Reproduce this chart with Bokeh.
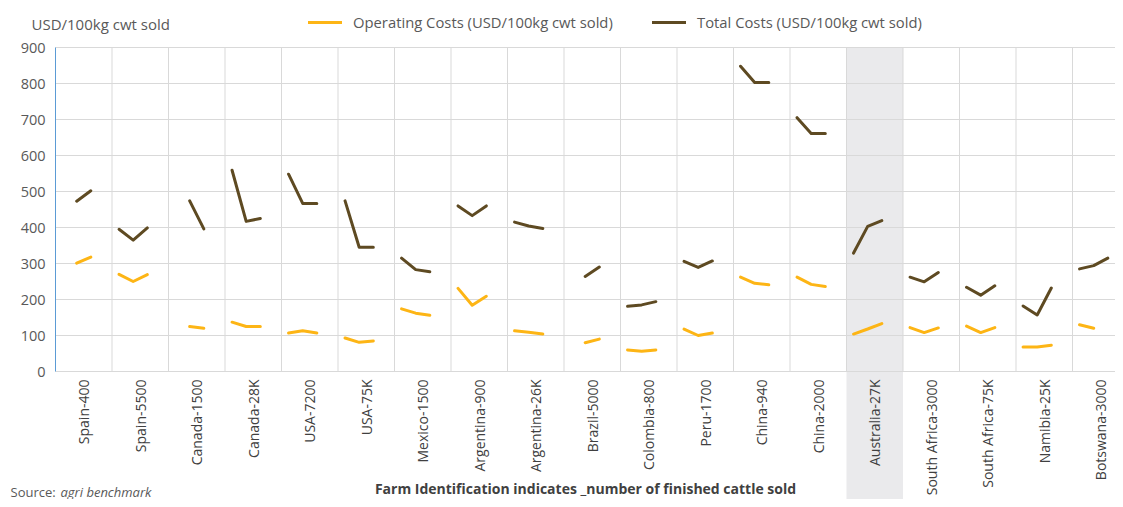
import math
from bokeh.plotting import figure
from bokeh.models import Range1d, Label, Legend, LegendItem, BoxAnnotation, ColumnDataSource
from bokeh.core.properties import value
from bokeh.embed import file_html
from bokeh.resources import INLINE

# ---------------- data ----------------
categories = ["Spain-400", "Spain-5500", "Canada-1500", "Canada-28K", "USA-7200",
              "USA-75K", "Mexico-1500", "Argentina-900", "Argentina-26K",
              "Brazil-5000", "Colombia-800", "Peru-1700", "China-940", "China-2000",
              "Australia-27K", "South Africa-3000", "South Africa-75K",
              "Namibia-25K", "Botswana-3000"]

operating = [
    [None, 301, 318],
    [270, 250, 269],
    [None, 125, 120],
    [137, 125, 125],
    [107, 113, 107],
    [93, 81, 85],
    [174, 162, 156],
    [231, 184, 209],
    [113, 109, 104],
    [None, 80, 90],
    [60, 56, 60],
    [118, 100, 107],
    [262, 245, 241],
    [262, 242, 236],
    [104, 118, 133],
    [122, 108, 121],
    [126, 108, 122],
    [68, 68, 73],
    [130, 120, None],
]

total = [
    [None, 473, 502],
    [395, 365, 399],
    [None, 474, 396],
    [559, 417, 425],
    [548, 467, 467],
    [474, 345, 345],
    [315, 283, 277],
    [460, 433, 460],
    [415, 404, 397],
    [None, 264, 290],
    [181, 185, 194],
    [306, 289, 307],
    [848, 803, 803],
    [705, 661, 661],
    [329, 403, 419],
    [262, 249, 275],
    [234, 212, 238],
    [182, 157, 232],
    [285, 294, 315],
]

y_ticks = [0, 100, 200, 300, 400, 500, 600, 700, 800, 900]
highlight = "Australia-27K"
series_names = ["Operating Costs (USD/100kg cwt sold)", "Total Costs (USD/100kg cwt sold)"]
y_title = "USD/100kg cwt sold"
x_note = "Farm Identification indicates _number of finished cattle sold"
source_lead = "Source:"
source_name = "agri benchmark"

# ---------------- styles / layout ----------------
ORANGE = "#FDB515"
DARK = "#5E4A22"
GRID = "#D9D9D9"
TXT = "#595959"
LAB = "#404040"
FONT = "Open Sans"

W, H = 1115, 499
PLOT_LEFT_PX = 55          # pixel of first category boundary
CAT_PX = 56.5              # pixels per category
ZERO_PX = 371              # pixel row of value 0
PX_PER_UNIT = 0.36         # pixels per USD

SLOTS = 4  # three periods + one empty slot per farm
n = len(categories)

def flatten(groups):
    xs, ys = [], []
    for i, g in enumerate(groups):
        for j, v in enumerate(g):
            xs.append(i + (j + 0.5) / SLOTS)
            ys.append(float("nan") if v is None else v)
        xs.append(i + (len(g) + 0.5) / SLOTS)
        ys.append(float("nan"))
    return xs, ys

x_op, y_op = flatten(operating)
x_tt, y_tt = flatten(total)

x0 = -PLOT_LEFT_PX / CAT_PX
x1 = (W - PLOT_LEFT_PX) / CAT_PX
y1 = ZERO_PX / PX_PER_UNIT
y0 = (ZERO_PX - H) / PX_PER_UNIT

p = figure(width=W, height=H,
           x_range=Range1d(x0, x1), y_range=Range1d(y0, y1),
           output_backend="svg", toolbar_location=None,
           x_axis_location=None, y_axis_location=None,
           min_border_left=0, min_border_right=0,
           min_border_top=0, min_border_bottom=0,
           outline_line_color=None, background_fill_color="white")
p.xgrid.visible = False
p.ygrid.visible = False

# highlighted farm band
hi = categories.index(highlight)
band = BoxAnnotation(left=hi, right=hi + 1, bottom=y0, top=y_ticks[-1],
                     fill_color="#EAEAEC", fill_alpha=1, line_color=None,
                     level="image")
p.add_layout(band)

# horizontal grid lines (value axis)
nt = len(y_ticks)
p.segment(x0=[0] * nt, y0=y_ticks, x1=[x1] * nt, y1=y_ticks,
          line_color=GRID, line_width=1)
# vertical category grid lines
bnd = list(range(1, n))
p.segment(x0=bnd, y0=[y_ticks[0]] * len(bnd), x1=bnd, y1=[y_ticks[-1]] * len(bnd),
          line_color=GRID, line_width=1)
# value axis line
p.segment(x0=[0], y0=[y_ticks[0]], x1=[0], y1=[y_ticks[-1]],
          line_color="#5B9BD5", line_width=1)

# value tick labels
p.text(x=[-10 / CAT_PX] * nt, y=y_ticks, text=[str(t) for t in y_ticks],
       text_align="right", text_baseline="middle",
       text_font=value(FONT), text_font_size="14.5px", text_color=TXT)

# series
r_op = p.line(x_op, y_op, line_color=ORANGE, line_width=3,
              line_cap="round", line_join="round")
r_tt = p.line(x_tt, y_tt, line_color=DARK, line_width=3,
              line_cap="round", line_join="round")

# category labels
lab_src = ColumnDataSource(dict(x=[i + 0.5 for i in range(n)],
                                y=[-8 / PX_PER_UNIT] * n, t=categories))
p.text(x="x", y="y", text="t", source=lab_src, angle=math.pi / 2,
       text_align="right", text_baseline="middle",
       text_font=value(FONT), text_font_size="14px", text_color=LAB)

# legends
for name, r, vx in [(series_names[0], r_op, 308), (series_names[1], r_tt, 652)]:
    lg = Legend(items=[LegendItem(label=name, renderers=[r])],
                location=(vx, 467), orientation="horizontal",
                background_fill_alpha=0, border_line_alpha=0,
                padding=0, margin=0, spacing=0,
                glyph_width=34, glyph_height=14, label_standoff=11,
                label_text_font=FONT, label_text_font_size="14.8px",
                label_text_color=TXT)
    p.add_layout(lg, "center")

# texts
p.add_layout(Label(x=31, y=H - 23, x_units="screen", y_units="screen", text=y_title,
                   text_baseline="middle", text_font=FONT,
                   text_font_size="15px", text_color=TXT))
p.add_layout(Label(x=585, y=11, x_units="screen", y_units="screen", text=x_note,
                   text_align="center", text_baseline="middle", text_font=FONT,
                   text_font_style="bold", text_font_size="14px",
                   text_color=LAB))
p.add_layout(Label(x=10, y=8, x_units="screen", y_units="screen", text=source_lead,
                   text_baseline="middle", text_font=FONT,
                   text_font_size="13px", text_color=TXT))
p.add_layout(Label(x=60, y=8, x_units="screen", y_units="screen", text=source_name,
                   text_baseline="middle", text_font=FONT, text_font_style="italic",
                   text_font_size="13px", text_color=TXT))

open("out.html", "w").write(file_html(p, INLINE))
